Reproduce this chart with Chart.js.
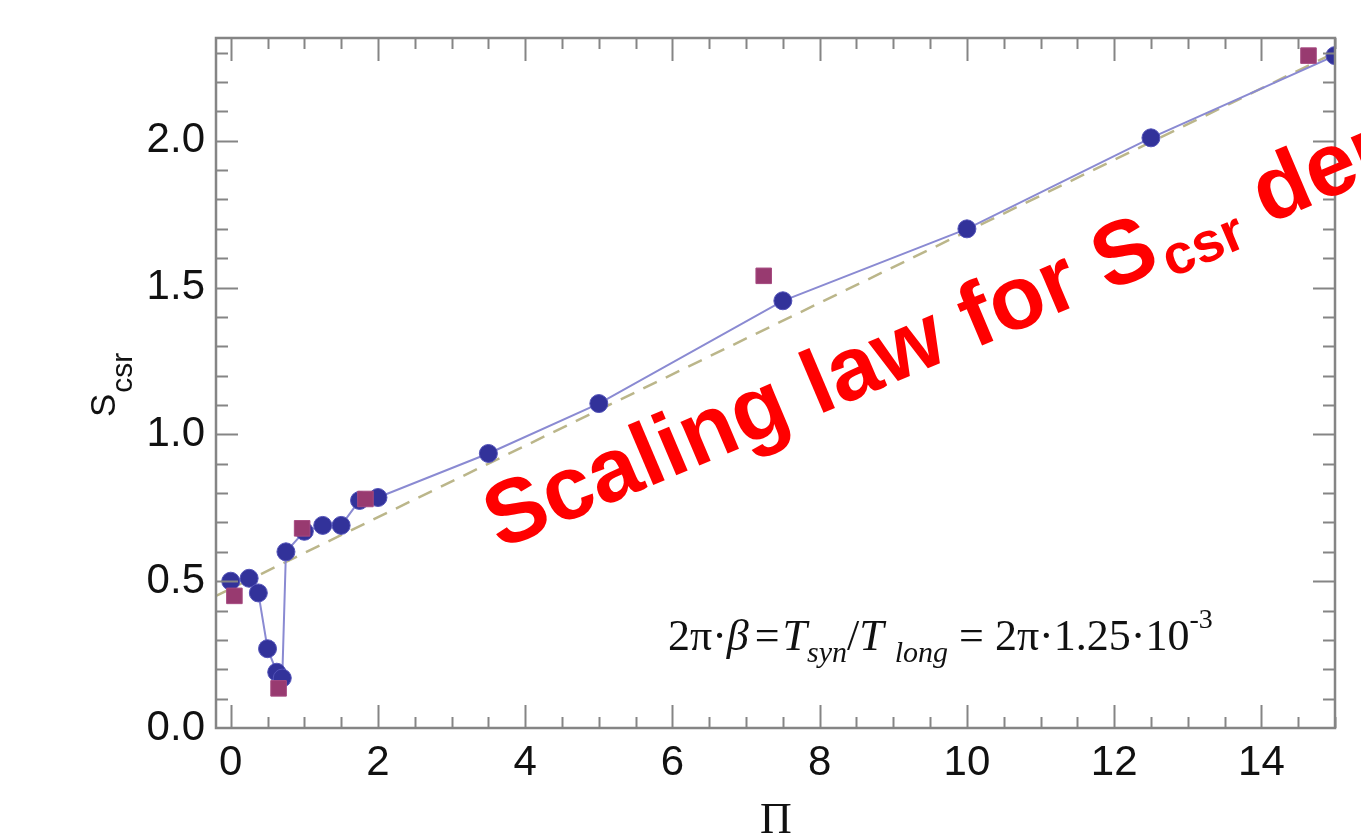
<!DOCTYPE html>
<html>
<head>
<meta charset="utf-8">
<script src="https://cdn.jsdelivr.net/npm/chart.js@4"></script>
<style>
  body { margin: 0; background: #fff; }
  canvas { display: block; }
</style>
</head>
<body>
<canvas id="chart" width="1361" height="839"></canvas>
<script>
// data
const circleX = [0, 0.25, 0.375, 0.5, 0.625, 0.7, 0.75, 1.0, 1.25, 1.5, 1.75, 2.0, 3.5, 5.0, 7.5, 10.0, 12.5, 15.0];
const circleY = [0.50, 0.51, 0.46, 0.27, 0.19, 0.17, 0.60, 0.67, 0.69, 0.69, 0.775, 0.785, 0.935, 1.105, 1.455, 1.70, 2.01, 2.29];
const squareX = [0.05, 0.65, 0.97, 1.83, 7.24, 14.64];
const squareY = [0.45, 0.135, 0.68, 0.78, 1.54, 2.29];
const fitX = [-0.2, 15];
const fitY = [0.45, 2.30];
const xTicks = [0, 2, 4, 6, 8, 10, 12, 14];
const yTicks = [0.0, 0.5, 1.0, 1.5, 2.0];

const pts = (xs, ys) => xs.map((x, i) => ({ x: x, y: ys[i] }));

// frame with inward ticks on all four sides
const framePlugin = {
    id: 'frame',
    afterDatasetsDraw(chart) {
        const ctx = chart.ctx;
        const a = chart.chartArea;
        const xs = chart.scales.x, ys = chart.scales.y;
        ctx.save();
        ctx.strokeStyle = '#858585';
        ctx.lineWidth = 2;
        ctx.beginPath();
        for (let i = 0; i <= 30; i++) {
            const v = i * 0.5;
            const p = Math.round(xs.getPixelForValue(v)) + 0.5;
            const len = (i % 4 === 0) ? 23 : 11;
            ctx.moveTo(p, a.bottom); ctx.lineTo(p, a.bottom - len);
            ctx.moveTo(p, a.top); ctx.lineTo(p, a.top + len);
        }
        for (let i = 1; i <= 23; i++) {
            const v = i * 0.1;
            const p = Math.round(ys.getPixelForValue(v)) + 0.5;
            const len = (i % 5 === 0) ? 22 : 12;
            ctx.moveTo(a.left, p); ctx.lineTo(a.left + len, p);
            ctx.moveTo(a.right, p); ctx.lineTo(a.right - len, p);
        }
        ctx.stroke();
        ctx.lineWidth = 2.5;
        ctx.strokeRect(a.left, a.top, a.right - a.left, a.bottom - a.top);
        ctx.restore();
    },
    afterDraw(chart) {
        const ctx = chart.ctx;
        ctx.save();
        ctx.fillStyle = '#111';
        ctx.textBaseline = 'alphabetic';

        // y axis title S_csr
        ctx.save();
        ctx.translate(115, 417);
        ctx.rotate(-Math.PI / 2);
        ctx.font = '35px "Liberation Sans", Arial, sans-serif';
        ctx.fillText('S', 0, 0);
        const sw = ctx.measureText('S').width;
        ctx.font = '30px "Liberation Sans", Arial, sans-serif';
        ctx.fillText('csr', sw + 1, 17);
        ctx.restore();

        // x axis title
        ctx.font = '44px "Liberation Serif", "Times New Roman", serif';
        ctx.textAlign = 'center';
        ctx.fillText('Π', 776, 833);
        ctx.textAlign = 'left';

        // formula
        const serif = '"Liberation Serif", "Times New Roman", serif';
        const parts = [
            { t: '2π·', it: false, s: 44, dy: 0 },
            { t: 'β', it: true, s: 44, dy: 0, gap: 6 },
            { t: '=', it: false, s: 44, dy: 0, gap: 3 },
            { t: 'T', it: true, s: 44, dy: 0 },
            { t: 'syn', it: true, s: 30, dy: 12 },
            { t: '/', it: false, s: 44, dy: 0 },
            { t: 'T ', it: true, s: 44, dy: 0 },
            { t: 'long', it: true, s: 30, dy: 12 },
            { t: ' = 2π·1.25·10', it: false, s: 44, dy: 0 },
            { t: '-3', it: false, s: 28, dy: -22 }
        ];
        let fx = 668;
        const fy = 650;
        parts.forEach(p => {
            ctx.font = (p.it ? 'italic ' : '') + p.s + 'px ' + serif;
            ctx.fillText(p.t, fx, fy + p.dy);
            fx += ctx.measureText(p.t).width + (p.gap || 0);
        });

        // red overlay title
        ctx.save();
        ctx.fillStyle = '#ff0000';
        ctx.translate(500, 550);
        ctx.rotate(-23 * Math.PI / 180);
        let tx = 0;
        ctx.font = 'bold 90px "Liberation Sans", Arial, sans-serif';
        ctx.fillText('Scaling law for S', tx, 0);
        tx += ctx.measureText('Scaling law for S').width + 4;
        ctx.font = 'bold 56px "Liberation Sans", Arial, sans-serif';
        ctx.fillText('csr', tx, 12);
        tx += ctx.measureText('csr').width;
        ctx.font = 'bold 90px "Liberation Sans", Arial, sans-serif';
        ctx.fillText(' dependence', tx, 0);
        ctx.restore();

        ctx.restore();
    }
};

const ctx = document.getElementById('chart').getContext('2d');
new Chart(ctx, {
    type: 'scatter',
    data: {
        datasets: [
            {
                label: 'squares',
                data: pts(squareX, squareY),
                pointStyle: 'rect',
                pointRadius: 11,
                pointBackgroundColor: '#983a70',
                pointBorderColor: '#a64a80',
                pointBorderWidth: 1,
                showLine: false
            },
            {
                label: 'circles',
                data: pts(circleX, circleY),
                showLine: true,
                borderColor: '#8a8ad2',
                borderWidth: 2,
                pointRadius: 9,
                pointBackgroundColor: '#32329a',
                pointBorderColor: '#5252b8',
                pointBorderWidth: 1,
                tension: 0
            },
            {
                label: 'fit',
                data: pts(fitX, fitY),
                showLine: true,
                borderColor: '#bbb68a',
                borderWidth: 2.5,
                borderDash: [15, 10],
                pointRadius: 0
            }
        ]
    },
    options: {
        responsive: false,
        animation: false,
        devicePixelRatio: 1,
        layout: { padding: { top: 38, right: 26, left: 0, bottom: 0 } },
        plugins: {
            legend: { display: false },
            tooltip: { enabled: false }
        },
        scales: {
            x: {
                type: 'linear',
                min: -0.2,
                max: 15,
                grid: { display: false, drawTicks: false },
                border: { display: false },
                afterBuildTicks: (scale) => { scale.ticks = xTicks.map(v => ({ value: v })); },
                afterFit: (scale) => { scale.height = 111; },
                ticks: {
                    autoSkip: false,
                    maxRotation: 0,
                    padding: 10,
                    color: '#111',
                    font: { family: '"Liberation Sans", Arial, sans-serif', size: 42 },
                    callback: (v) => String(v)
                }
            },
            y: {
                type: 'linear',
                min: 0,
                max: 2.35,
                grid: { display: false, drawTicks: false },
                border: { display: false },
                afterBuildTicks: (scale) => { scale.ticks = yTicks.map(v => ({ value: v })); },
                afterFit: (scale) => { scale.width = 216; },
                ticks: {
                    autoSkip: false,
                    padding: 11,
                    color: '#111',
                    font: { family: '"Liberation Sans", Arial, sans-serif', size: 42 },
                    callback: (v) => Number(v).toFixed(1)
                }
            }
        }
    },
    plugins: [framePlugin]
});
</script>
</body>
</html>
